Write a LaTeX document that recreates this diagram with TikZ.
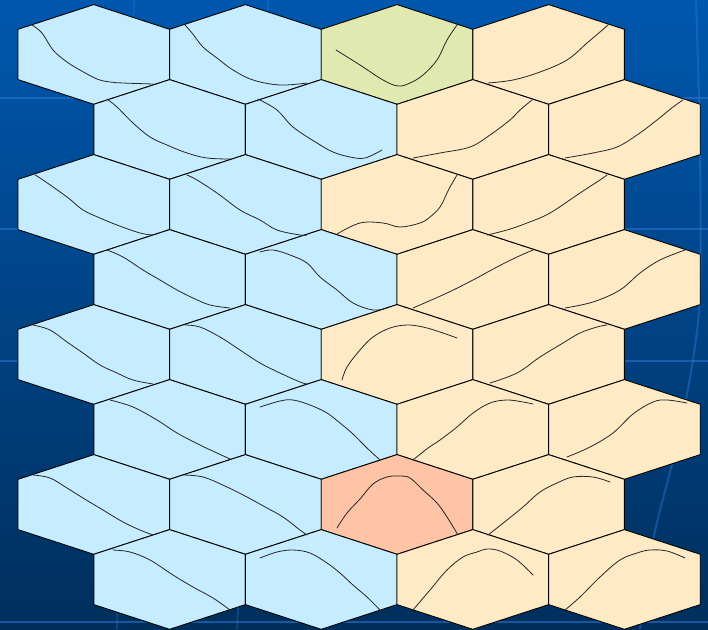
\documentclass[tikz,border=0pt]{standalone}
\definecolor{bgtop}{HTML}{0057AE}
\definecolor{bgbot}{HTML}{002F5C}
\definecolor{gridln}{HTML}{2A78D8}
\definecolor{hexblue}{HTML}{C6ECFF}
\definecolor{hexbeige}{HTML}{FFEAC6}
\definecolor{hexgreen}{HTML}{E0EAB0}
\definecolor{hexsalmon}{HTML}{FFC3A6}
\tikzset{
  hexcell/.style={draw=black, line width=0.9pt, line join=miter},
  proto/.style={draw=black!85, line width=0.8pt, line join=round, line cap=round},
  bgline/.style={draw=gridln, line width=2.6pt, opacity=0.55}
}
\newcommand{\hexat}[3]{%
  \path[hexcell, fill=#3] (#1,#2-49.85) -- (#1+75.8,#2-25.15) -- (#1+75.8,#2+25.15)
    -- (#1,#2+49.85) -- (#1-75.8,#2+25.15) -- (#1-75.8,#2-25.15) -- cycle;}
\newcommand{\protocurve}[1]{\draw[proto] plot[smooth, tension=0.6] coordinates {#1};}
\begin{document}
\begin{tikzpicture}[x=1pt, y=-1pt]
\useasboundingbox (0,0) rectangle (708,629);
\shade[top color=bgtop, bottom color=bgbot] (0,0) rectangle (708,629);
% faint background grid lines
\draw[bgline] (0,98) -- (708,98);
\draw[bgline] (0,229) -- (708,229);
\draw[bgline] (0,361) -- (708,361);
\draw[bgline] (0,622) -- (708,622);
\draw[bgline, line width=1.6pt, opacity=0.35] (134,0) -- (117,629);
\draw[bgline, line width=1.6pt, opacity=0.35] (268,0) -- (237,629);
\draw[bgline, line width=2pt, opacity=0.45] plot[smooth] coordinates {(696,0) (700,150) (699,310) (680,430) (653,540) (640,629)};
% row 0
\hexat{93.8}{54.45}{hexblue}
\hexat{245.4}{54.45}{hexblue}
\hexat{397.0}{54.45}{hexgreen}
\hexat{548.6}{54.45}{hexbeige}
% row 1
\hexat{169.6}{129.45}{hexblue}
\hexat{321.2}{129.45}{hexblue}
\hexat{472.8}{129.45}{hexbeige}
\hexat{624.4}{129.45}{hexbeige}
% row 2
\hexat{93.8}{204.45}{hexblue}
\hexat{245.4}{204.45}{hexblue}
\hexat{397.0}{204.45}{hexbeige}
\hexat{548.6}{204.45}{hexbeige}
% row 3
\hexat{169.6}{279.45}{hexblue}
\hexat{321.2}{279.45}{hexblue}
\hexat{472.8}{279.45}{hexbeige}
\hexat{624.4}{279.45}{hexbeige}
% row 4
\hexat{93.8}{354.45}{hexblue}
\hexat{245.4}{354.45}{hexblue}
\hexat{397.0}{354.45}{hexbeige}
\hexat{548.6}{354.45}{hexbeige}
% row 5
\hexat{169.6}{429.45}{hexblue}
\hexat{321.2}{429.45}{hexblue}
\hexat{472.8}{429.45}{hexbeige}
\hexat{624.4}{429.45}{hexbeige}
% row 6
\hexat{93.8}{504.45}{hexblue}
\hexat{245.4}{504.45}{hexblue}
\hexat{397.0}{504.45}{hexsalmon}
\hexat{548.6}{504.45}{hexbeige}
% row 7
\hexat{169.6}{579.45}{hexblue}
\hexat{321.2}{579.45}{hexblue}
\hexat{472.8}{579.45}{hexbeige}
\hexat{624.4}{579.45}{hexbeige}
% prototype curves, row 0
\protocurve{(32,25) (42,33) (53,50) (67,62) (80,70) (97,79) (110,82) (123,83) (153,84)}
\protocurve{(185,25) (192,33) (203,47) (217,58) (233,70) (253,80) (280,85) (307,83)}
\protocurve{(336,50) (360,65) (383,80) (398,86) (410,83) (423,75) (437,60) (447,40) (457,25)}
\protocurve{(488,83) (513,80) (540,72) (567,60) (587,43) (600,32) (608,25)}
% row 1
\protocurve{(107,99) (117,107) (133,123) (150,137) (167,145) (187,153) (207,158) (230,159)}
\protocurve{(258,99) (277,110) (293,127) (317,143) (333,152) (350,157) (365,158) (382,150)}
\protocurve{(413,158) (440,153) (470,147) (490,135) (510,120) (520,110) (532,100)}
\protocurve{(565,158) (593,153) (617,147) (637,135) (657,120) (673,107) (683,100)}
% row 2
\protocurve{(35,175) (43,180) (67,197) (83,210) (100,218) (117,225) (140,233) (153,235)}
\protocurve{(187,175) (197,180) (217,193) (240,210) (260,220) (277,230) (300,235) (307,235)}
\protocurve{(337,234) (360,223) (383,223) (400,227) (420,223) (430,217) (440,207) (447,193) (450,187) (457,175)}
\protocurve{(487,235) (507,230) (527,223) (550,213) (580,193) (600,180) (607,175)}
% row 3
\protocurve{(107,250) (123,257) (143,270) (160,280) (177,290) (193,298) (210,305) (230,308)}
\protocurve{(260,252) (273,250) (290,255) (307,263) (320,277) (337,290) (353,303) (373,310) (387,308)}
\protocurve{(413,308) (447,293) (473,280) (497,267) (517,257) (533,250)}
\protocurve{(565,308) (593,302) (620,290) (640,273) (660,260) (685,250)}
% row 4
\protocurve{(33,325) (50,330) (67,342) (83,353) (100,365) (117,373) (133,380) (153,384)}
\protocurve{(185,325) (200,327) (220,337) (240,350) (260,363) (280,373) (300,382) (307,384)}
\protocurve{(342,380) (347,367) (360,350) (373,337) (390,328) (407,325) (423,327) (440,332) (457,338)}
\protocurve{(490,383) (517,373) (540,357) (563,343) (580,333) (597,327) (607,325)}
% row 5
\protocurve{(110,400) (133,407) (157,420) (177,433) (200,445) (217,453) (230,459)}
\protocurve{(260,407) (280,401) (293,400) (310,405) (327,413) (340,423) (353,434) (367,448) (380,460)}
\protocurve{(413,460) (428,448) (440,440) (457,427) (473,413) (490,403) (507,400) (523,402) (533,404)}
\protocurve{(567,457) (590,447) (613,433) (633,414) (653,402) (667,400) (687,403)}
% row 6
\protocurve{(33,475) (50,478) (67,488) (83,498) (103,510) (123,522) (140,530) (153,535)}
\protocurve{(182,475) (203,477) (227,487) (247,497) (267,508) (283,517) (300,530) (307,535)}
\protocurve{(337,528) (347,513) (360,499) (373,484) (387,477) (400,476) (410,478) (423,490) (437,503) (447,517) (458,535)}
\protocurve{(488,535) (507,520) (523,507) (540,492) (557,483) (573,477) (593,477) (610,482)}
% row 7
\protocurve{(113,550) (130,552) (150,560) (173,575) (193,587) (213,598) (230,610)}
\protocurve{(260,558) (277,552) (293,550) (310,553) (327,563) (340,573) (353,585) (367,597) (380,610)}
\protocurve{(413,610) (430,590) (447,570) (463,557) (477,552) (487,549) (500,551) (517,560) (533,575)}
\protocurve{(565,610) (580,597) (600,577) (620,560) (637,553) (650,550) (667,551) (685,558)}
\end{tikzpicture}
\end{document}
